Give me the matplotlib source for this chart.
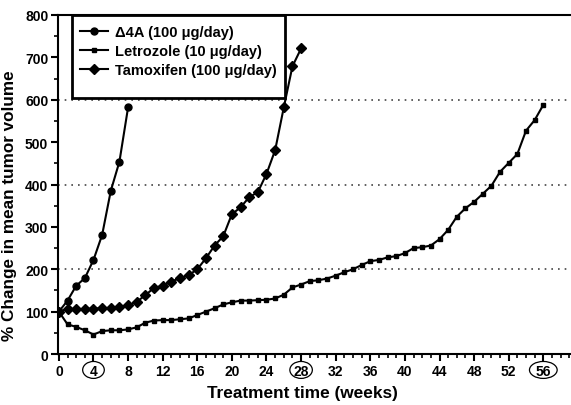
import matplotlib
matplotlib.use("Agg")
import matplotlib.pyplot as plt
from matplotlib.ticker import MultipleLocator
from matplotlib.patches import Ellipse, Rectangle
from matplotlib.transforms import blended_transform_factory

plt.rcParams['font.family'] = ['Liberation Sans', 'DejaVu Sans']
plt.rcParams['font.weight'] = 'bold'

weeks_d4a = list(range(0, 9))
d4a = [100, 126, 161, 179, 222, 281, 385, 454, 582]

weeks_letro = list(range(0, 57))
letrozole = [100, 70, 64, 56, 46, 54, 56, 56, 58, 63,
             74, 79, 80, 80, 82, 84, 92, 100, 108, 117,
             122, 126, 126, 127, 128, 131, 140, 157, 164, 172,
             174, 178, 185, 193, 200, 210, 219, 222, 228, 231,
             238, 250, 252, 256, 271, 293, 324, 344, 359, 378,
             397, 430, 451, 472, 527, 552, 588]

weeks_tam = list(range(0, 29))
tamoxifen = [100, 106, 106, 106, 107, 108, 109, 110, 115, 123,
             139, 156, 161, 171, 179, 186, 200, 226, 256, 278,
             330, 346, 370, 382, 425, 481, 582, 679, 721]

labels = ["\u03944A (100 \u03bcg/day)", "Letrozole (10 \u03bcg/day)", "Tamoxifen (100 \u03bcg/day)"]
x_ticks = list(range(0, 57, 4))
y_ticks = list(range(0, 801, 100))
grid_levels = [200, 400, 600]
circled = [4, 28, 56]
circle_widths = [2.5, 2.6, 3.2]

fig = plt.figure(figsize=(5.71, 4.06), dpi=100)
ax = fig.add_axes([0.1016, 0.1256, 0.8984, 0.835])

for g in grid_levels:
    ax.axhline(g, color='#444444', lw=1.2, ls=(0, (1, 3)), zorder=1)

ax.plot(weeks_d4a, d4a, color='black', lw=1.5, marker='o', ms=5, label=labels[0], zorder=3)
ax.plot(weeks_letro, letrozole, color='black', lw=1.5, marker='s', ms=3.5, label=labels[1], zorder=3)
ax.plot(weeks_tam, tamoxifen, color='black', lw=1.5, marker='D', ms=5, label=labels[2], zorder=3)

ax.set_xlim(-0.1, 59.2)
ax.set_ylim(0, 800)
ax.set_xticks(x_ticks)
ax.set_yticks(y_ticks)
ax.xaxis.set_minor_locator(MultipleLocator(1))
ax.yaxis.set_minor_locator(MultipleLocator(50))
ax.tick_params(axis='both', which='major', direction='out', length=5, width=1.5, labelsize=10, pad=2)
ax.tick_params(axis='both', which='minor', direction='out', length=3, width=1.2)
for lab in ax.get_xticklabels() + ax.get_yticklabels():
    lab.set_fontweight('bold')

trans = blended_transform_factory(ax.transData, ax.transAxes)
for t, w in zip(circled, circle_widths):
    ax.add_patch(Ellipse((t, -0.047), w, 0.05, transform=trans, fill=False,
                         ec='black', lw=0.9, clip_on=False))

for s in ['left', 'bottom', 'top']:
    ax.spines[s].set_linewidth(1.5)
ax.spines['right'].set_visible(False)

ax.set_xlabel("Treatment time (weeks)", fontsize=12.4, fontweight='bold')
ax.xaxis.set_label_coords(0.477, -0.09)
ax.set_ylabel("% Change in mean tumor volume", fontsize=12.3, fontweight='bold')
ax.yaxis.set_label_coords(-0.08, 0.44)

# legend frame
ax.add_patch(Rectangle((0.0273, 0.755), 0.4152, 0.245, transform=ax.transAxes,
                       fill=True, fc='white', ec='black', lw=2, zorder=2.5))
leg = ax.legend(loc='upper left', bbox_to_anchor=(0.043, 0.970), frameon=False,
                fontsize=10.5, handlelength=1.9, borderpad=0,
                labelspacing=0.33, handletextpad=0.5, borderaxespad=0)
leg.set_zorder(4)
for t in leg.get_texts():
    t.set_fontweight('bold')

fig.savefig("out.png", dpi=100)
